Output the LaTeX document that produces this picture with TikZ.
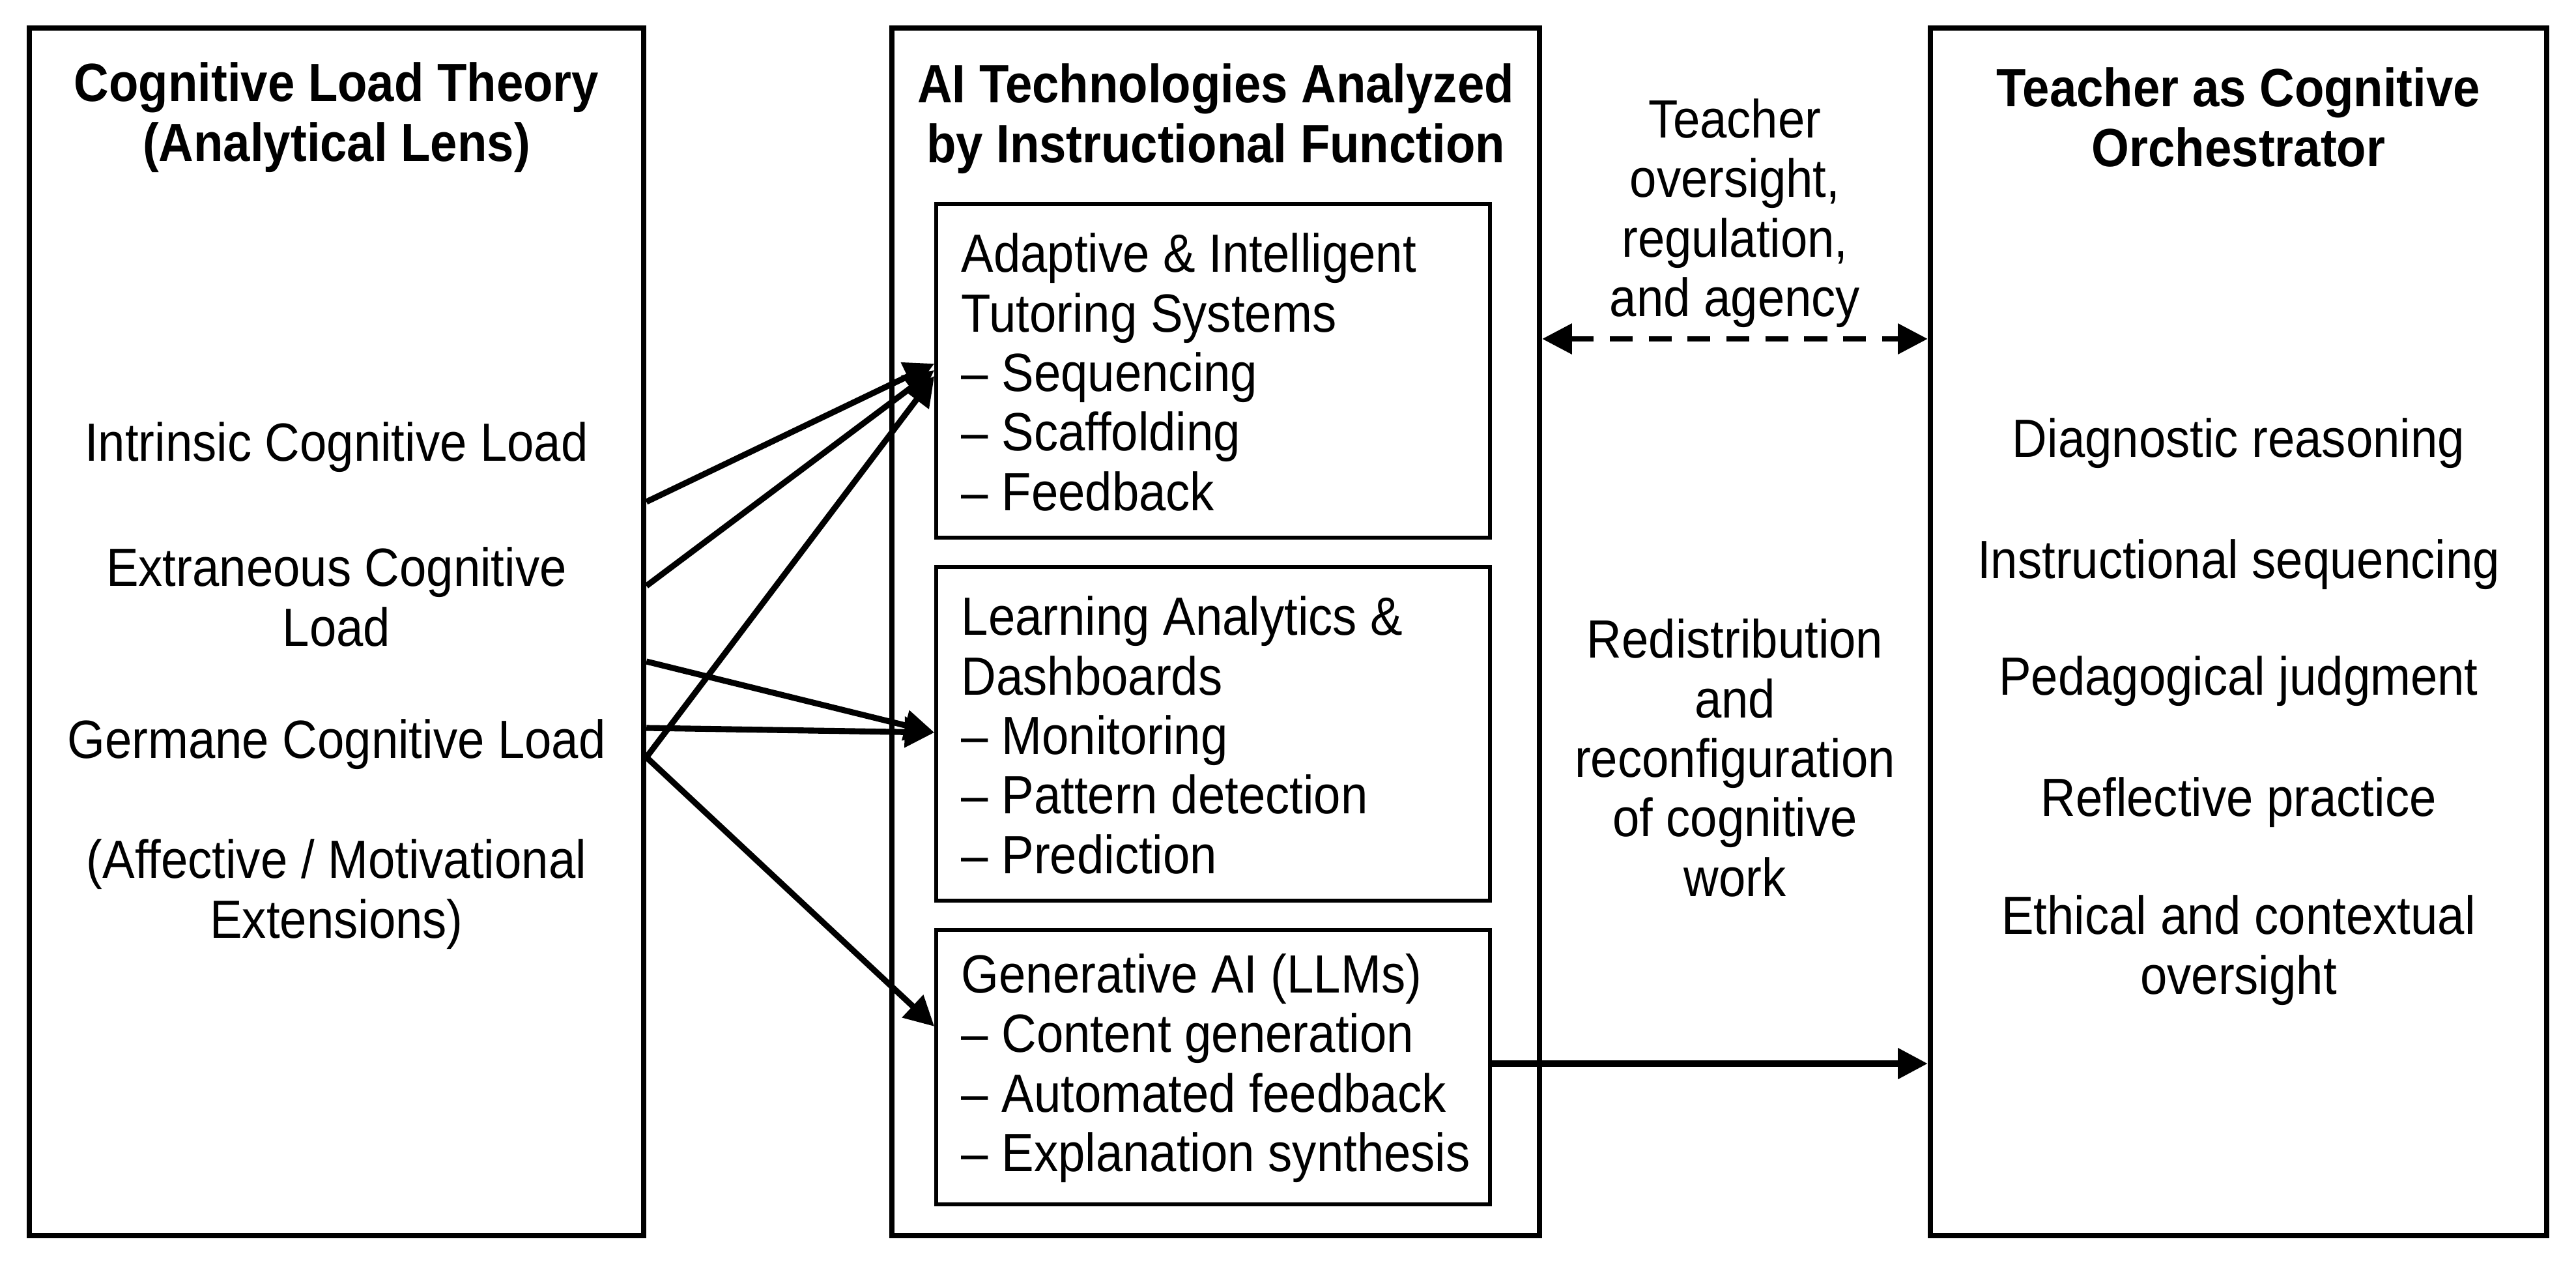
\documentclass[tikz,border=0pt]{standalone}
\usepackage{fontspec}
\setmainfont{Liberation Sans}[FakeStretch=0.9]
\usetikzlibrary{arrows.meta}
\begin{document}
\begin{tikzpicture}[
  txt/.style={font=\fontsize{23.5pt}{26pt}\selectfont, inner sep=0pt, align=center},
  ttl/.style={font=\fontsize{23.5pt}{26pt}\selectfont\bfseries, inner sep=0pt, align=center},
  itm/.style={font=\fontsize{23.5pt}{26pt}\selectfont, inner sep=0pt, align=left, anchor=west},
  obox/.style={draw, line width=2.4pt, inner sep=0pt},
  ibox/.style={draw, line width=1.6pt, inner sep=0pt, minimum width=8.5cm},
  arr/.style={line width=2.6pt, -{Triangle[length=13pt,width=13pt]}},
  dsh/.style={line width=2.2pt, dash pattern=on 10pt off 7pt,
     {Triangle[length=13pt,width=13pt]}-{Triangle[length=13pt,width=13pt]}}
]
\useasboundingbox (0,0) rectangle (39.54,-19.38);

% outer boxes
\node[obox, minimum width=9.43cm, minimum height=18.53cm] (lbox) at (5.165,-9.695) {};
\node[obox, minimum width=9.94cm, minimum height=18.53cm] (mbox) at (18.66,-9.695) {};
\node[obox, minimum width=9.46cm, minimum height=18.53cm] (rbox) at (34.36,-9.695) {};

% inner boxes
\node[ibox, minimum height=5.12cm] (its) at (18.62,-5.69) {};
\node[ibox, minimum height=5.12cm] (la)  at (18.62,-11.26) {};
\node[ibox, minimum height=4.21cm] (gen) at (18.62,-16.375) {};

% titles
\node[ttl] (lt) at (5.165,-1.80) {Cognitive Load Theory\\(Analytical Lens)};
\node[ttl] (mt) at (18.66,-1.82) {AI Technologies Analyzed\\by Instructional Function};
\node[ttl] (rt) at (34.36,-1.80) {Teacher as Cognitive\\Orchestrator};

% left items
\node[txt] (icl) at (5.165,-6.86) {Intrinsic Cognitive Load};
\node[txt] (ecl) at (5.165,-9.16) {Extraneous Cognitive\\Load};
\node[txt] (gcl) at (5.165,-11.42) {Germane Cognitive Load};
\node[txt] (aff) at (5.165,-13.72) {(Affective / Motivational\\Extensions)};

% inner box texts
\node[itm] (itst) at (14.75,-5.71) {Adaptive \& Intelligent\\Tutoring Systems\\– Sequencing\\– Scaffolding\\– Feedback};
\node[itm] (lat) at (14.75,-11.28) {Learning Analytics \&\\Dashboards\\– Monitoring\\– Pattern detection\\– Prediction};
\node[itm] (gent) at (14.75,-16.39) {Generative AI (LLMs)\\– Content generation\\– Automated feedback\\– Explanation synthesis};

% right items
\node[txt] (r1) at (34.36,-6.80) {Diagnostic reasoning};
\node[txt] (r2) at (34.36,-8.66) {Instructional sequencing};
\node[txt] (r3) at (34.36,-10.45) {Pedagogical judgment};
\node[txt] (r4) at (34.36,-12.31) {Reflective practice};
\node[txt] (r5) at (34.36,-14.58) {Ethical and contextual\\oversight};

% between labels
\node[txt] (ov) at (26.63,-3.27) {Teacher\\oversight,\\regulation,\\and agency};
\node[txt] (rd) at (26.63,-11.63) {Redistribution\\and\\reconfiguration\\of cognitive\\work};

% helper levels
\coordinate (ya) at (0,-7.70);
\coordinate (yb) at (0,-8.99);
\coordinate (yd) at (0,-10.15);
\coordinate (ye) at (0,-11.17);
\coordinate (yc) at (0,-11.62);
\coordinate (ta) at (0,-5.58);
\coordinate (tb) at (0,-5.68);
\coordinate (tc) at (0,-5.77);
\coordinate (td) at (0,-11.24);
\coordinate (tf) at (0,-15.75);
\coordinate (yo) at (0,-5.20);
\coordinate (yg) at (0,-16.32);

% connectors
\draw[arr] (lbox.east |- ya) -- (its.west |- ta);
\draw[arr] (lbox.east |- yb) -- (its.west |- tb);
\draw[arr] (lbox.east |- yc) -- (its.west |- tc);
\draw[arr] (lbox.east |- yd) -- (la.west |- td);
\draw[arr] (lbox.east |- ye) -- (la.west |- td);
\draw[arr] (lbox.east |- yc) -- (gen.west |- tf);
\draw[dsh] (mbox.east |- yo) -- (rbox.west |- yo);
\draw[arr] (gen.east |- yg) -- (rbox.west |- yg);
\end{tikzpicture}
\end{document}
